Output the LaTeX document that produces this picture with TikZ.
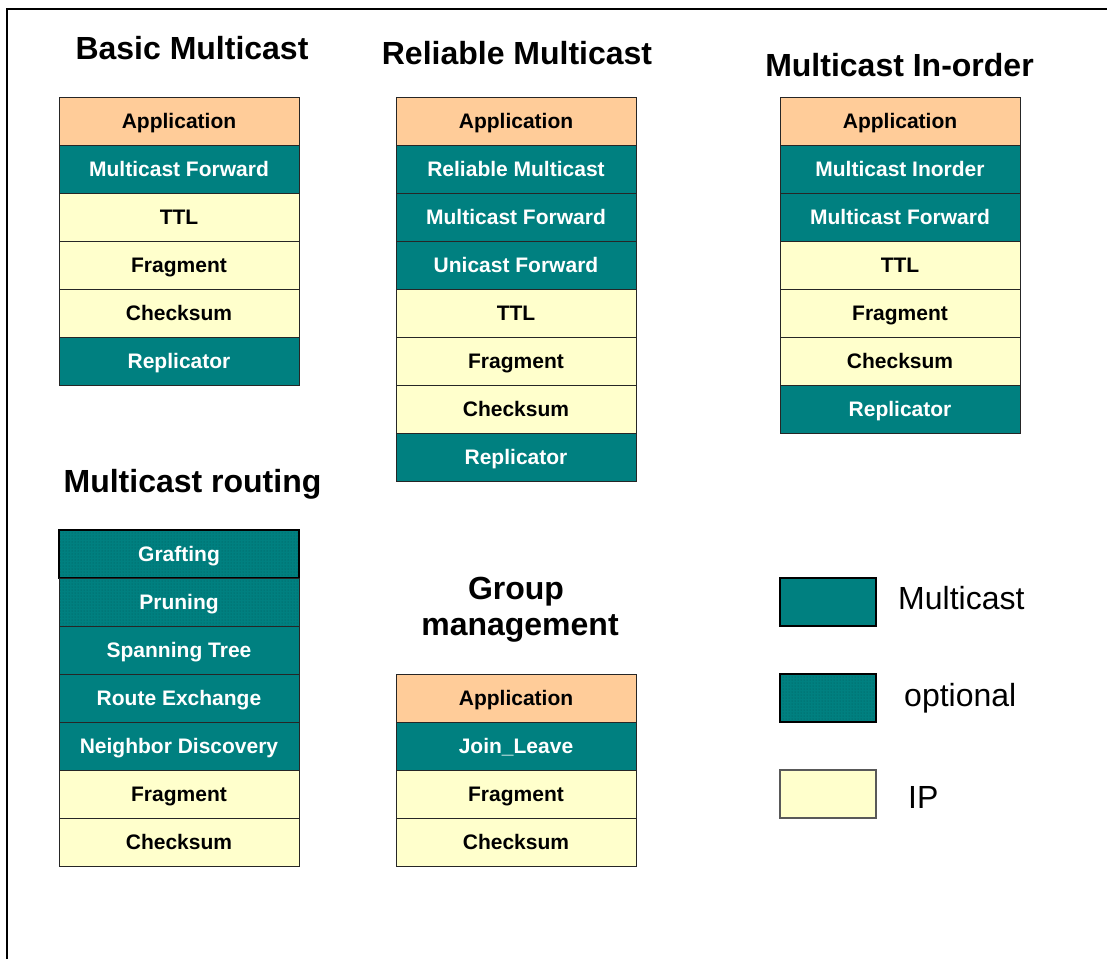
\documentclass[tikz,border=0pt]{standalone}
\usepackage{fontspec}
\setmainfont{Liberation Sans}
\usetikzlibrary{patterns}

\definecolor{mcteal}{HTML}{008080}
\definecolor{mcdots}{HTML}{005A5A}
\definecolor{appfill}{HTML}{FFCC99}
\definecolor{ipfill}{HTML}{FFFFCC}

\tikzset{
  layer/.style={draw=black!85, line width=0.8pt, minimum width=240pt, minimum height=48pt,
    inner sep=0pt, text height=15pt, text depth=0pt,
    font=\fontsize{21}{24}\selectfont\bfseries},
  app/.style={layer, fill=appfill, text=black},
  mc/.style={layer, fill=mcteal, text=white},
  ip/.style={layer, fill=ipfill, text=black},
  opt/.style={layer, text=white, preaction={fill=mcteal},
    pattern=dots, pattern color=mcdots},
  title/.style={anchor=base, inner sep=0pt, font=\fontsize{32}{36}\selectfont\bfseries},
  keybox/.style={minimum width=96pt, minimum height=48pt, inner sep=0pt, line width=2pt},
  keytext/.style={anchor=base west, inner sep=0pt, font=\fontsize{32}{36}\selectfont},
}

\begin{document}
\begin{tikzpicture}[x=1pt, y=-1pt]
\useasboundingbox (0,0) rectangle (1107,959);

% frame edges
\draw[line width=1.5pt] (7,959) -- (7,9) -- (1107,9);

% Basic Multicast
\node[title] (t1) at (192,59) {Basic Multicast};
\node[app] (b1) at (179,121) {Application};
\node[mc]  (b2) at (179,169) {Multicast Forward};
\node[ip]  (b3) at (179,217) {TTL};
\node[ip]  (b4) at (179,265) {Fragment};
\node[ip]  (b5) at (179,313) {Checksum};
\node[mc]  (b6) at (179,361) {Replicator};

% Reliable Multicast
\node[title] (t2) at (517,64.5) {Reliable Multicast};
\node[app] (r1) at (516,121) {Application};
\node[mc]  (r2) at (516,169) {Reliable Multicast};
\node[mc]  (r3) at (516,217) {Multicast Forward};
\node[mc]  (r4) at (516,265) {Unicast Forward};
\node[ip]  (r5) at (516,313) {TTL};
\node[ip]  (r6) at (516,361) {Fragment};
\node[ip]  (r7) at (516,409) {Checksum};
\node[mc]  (r8) at (516,457) {Replicator};

% Multicast In-order
\node[title] (t3) at (899.5,76) {Multicast In-order};
\node[app] (o1) at (900,121) {Application};
\node[mc]  (o2) at (900,169) {Multicast Inorder};
\node[mc]  (o3) at (900,217) {Multicast Forward};
\node[ip]  (o4) at (900,265) {TTL};
\node[ip]  (o5) at (900,313) {Fragment};
\node[ip]  (o6) at (900,361) {Checksum};
\node[mc]  (o7) at (900,409) {Replicator};

% Multicast routing
\node[title] (t4) at (192.5,492) {Multicast routing};
\node[opt, line width=1.6pt, draw=black] (m1) at (179,554) {Grafting};
\node[opt] (m2) at (179,602) {Pruning};
\node[mc]  (m3) at (179,650) {Spanning Tree};
\node[mc]  (m4) at (179,698) {Route Exchange};
\node[mc]  (m5) at (179,746) {Neighbor Discovery};
\node[ip]  (m6) at (179,794) {Fragment};
\node[ip]  (m7) at (179,842) {Checksum};

% Group management
\node[title] (t5a) at (516,599) {Group};
\node[title] (t5b) at (520,635) {management};
\node[app] (g1) at (516,698) {Application};
\node[mc]  (g2) at (516,746) {Join\_Leave};
\node[ip]  (g3) at (516,794) {Fragment};
\node[ip]  (g4) at (516,842) {Checksum};

% key
\node[keybox, draw=black, fill=mcteal] (k1) at (828,602) {};
\node[keybox, draw=black, preaction={fill=mcteal}, pattern=dots, pattern color=mcdots] (k2) at (828,698) {};
\node[keybox, draw=black!65, line width=1.5pt, fill=ipfill] (k3) at (828,794) {};
\node[keytext] (l1) at (898,609.5) {Multicast};
\node[keytext] (l2) at (904,706) {optional};
\node[keytext] (l3) at (908,808.5) {IP};
\end{tikzpicture}
\end{document}
